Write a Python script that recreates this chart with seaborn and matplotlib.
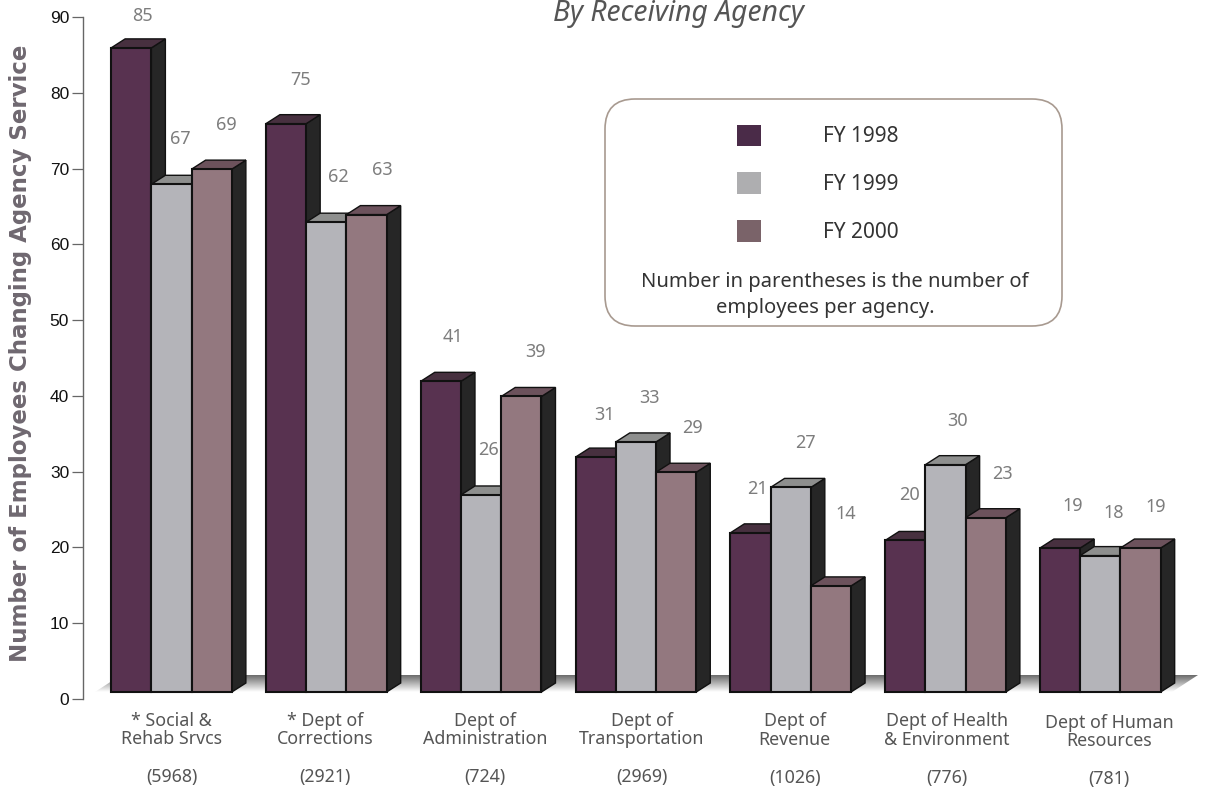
import numpy as np
import pandas as pd
import matplotlib
matplotlib.use("Agg")
import matplotlib.pyplot as plt
from matplotlib.patches import FancyBboxPatch, Polygon
from matplotlib.transforms import ScaledTranslation
import seaborn as sns

# Employees changing agency service, by receiving agency
agencies = ["* Social &\nRehab Srvcs", "* Dept of\nCorrections", "Dept of\nAdministration",
            "Dept of\nTransportation", "Dept of\nRevenue", "Dept of Health\n& Environment",
            "Dept of Human\nResources"]
headcounts = [5968, 2921, 724, 2969, 1026, 776, 781]
fy1998 = [85, 75, 41, 31, 21, 20, 19]
fy1999 = [67, 62, 26, 33, 27, 30, 18]
fy2000 = [69, 63, 39, 29, 14, 23, 19]
years = ["FY 1998", "FY 1999", "FY 2000"]

front_colors = ["#583250", "#b4b4b9", "#93787f"]
top_colors = ["#47303f", "#8e8f8e", "#6c525c"]
side_color = "#262626"
text_gray = "#555555"
value_gray = "#7d7d7d"

# Hand placement of the value labels, in pixels from the top centre of each bar
label_dx = [[11, 9, 15], [15, 12, 16], [12, 7, 14], [9, 14, 16], [7, 15, 15], [4, 12, 17], [13, 13, 15]]
label_up = [[32, 45, 44], [44, 45, 45], [44, 45, 44], [42, 44, 44], [44, 44, 72], [45, 44, 44], [42, 43, 41]]
# Nudge of each group caption, in pixels
caption_shift = [0, -1, 4, 6, 4, 1, 9]
caption_drop = [0, 0, 0, 0, 1, 1, 2]

W, H = 1216, 787
sns.set_theme(style="white", rc={"font.family": ["Noto Sans", "DejaVu Sans"]})
fig = plt.figure(figsize=(W / 100, H / 100), dpi=100, facecolor="white")

# Axes span: y=0 sits at pixel 699, y=90 at pixel 17, left spine at pixel 83
ax_left, ax_right, ax_top, ax_bottom = 83, 1205, 17, 699
ax = fig.add_axes([ax_left / W, 1 - ax_bottom / H, (ax_right - ax_left) / W, (ax_bottom - ax_top) / H])
px_x = 154.8   # pixels per category
px_y = (ax_bottom - ax_top) / 90  # pixels per employee
first_center = 171.5

frame = pd.DataFrame({
    "agency": agencies * 3,
    "year": sum([[y] * len(agencies) for y in years], []),
    "employees": fy1998 + fy1999 + fy2000,
})
sns.barplot(data=frame, x="agency", y="employees", hue="year", hue_order=years, order=agencies,
            palette=front_colors, width=0.78, gap=0, dodge=True, saturation=1, errorbar=None,
            edgecolor="#111111", linewidth=1.5, legend=False, ax=ax)

xlim = ((ax_left - first_center) / px_x, (ax_right - first_center) / px_x)
ax.set_xlim(*xlim)
ax.set_ylim(0, 90)

# Oblique projection: bars stand slightly above the axis zero and recede up and to the right
lift = 7 / px_y
depth_x = 14 / px_x
depth_y = 9 / px_y

# Shaded floor beneath the bars
floor_x0, floor_x1 = (95 - first_center) / px_x, (1172 - first_center) / px_x
floor_run, floor_rise = 26 / px_x, 17 / px_y
shade = np.linspace(0.42, 1.0, 64)[:, None]
floor_img = ax.imshow(shade, cmap="gray", vmin=0, vmax=1, aspect="auto", zorder=1,
                      extent=(floor_x0, floor_x1 + floor_run, lift, lift + floor_rise), origin="upper")
floor_poly = Polygon([(floor_x0, lift), (floor_x1, lift), (floor_x1 + floor_run, lift + floor_rise),
                      (floor_x0 + floor_run, lift + floor_rise)], transform=ax.transData, fc="none", ec="none")
ax.add_patch(floor_poly)
floor_img.set_clip_path(floor_poly)
ax.set_xlim(*xlim)
ax.set_ylim(0, 90)

# Extrude every bar, painting left to right so nearer faces overlap correctly
for h, container in enumerate(ax.containers):
    for g, bar in enumerate(container):
        bar.set_y(lift)
        x0, w, v = bar.get_x(), bar.get_width(), bar.get_height()
        x1, top = x0 + w, lift + v
        z = 2 + g * 3 * 3 + h * 3
        bar.set_zorder(z + 2)
        ax.add_patch(Polygon([(x1, lift), (x1 + depth_x, lift + depth_y), (x1 + depth_x, top + depth_y), (x1, top)],
                             fc=side_color, ec="#111111", lw=1.0, zorder=z))
        ax.add_patch(Polygon([(x0, top), (x0 + depth_x, top + depth_y), (x1 + depth_x, top + depth_y), (x1, top)],
                             fc=top_colors[h], ec="#111111", lw=1.0, zorder=z + 1))
        ax.annotate(str(int(v)), xy=(x0 + w / 2, top), xytext=(label_dx[g][h] * 0.72, label_up[g][h] * 0.72),
                    textcoords="offset points", ha="center", va="center", fontsize=13,
                    color=value_gray, zorder=100, annotation_clip=False)

# Axes furniture
sns.despine(ax=ax, top=True, right=True, bottom=True)
ax.spines["left"].set_color("#666666")
ax.spines["left"].set_linewidth(1.0)
ax.set_yticks(range(0, 91, 10))
ax.tick_params(axis="y", length=8, width=0.9, color="#666666", pad=2, left=True)
for tick in ax.get_yticklabels():
    tick.set_fontsize(12.5)
    tick.set_fontfamily("Liberation Sans")
    tick.set_color("#111111")
ax.set_ylabel("")
ax.set_xlabel("")

ax.set_xticks([i + caption_shift[i] / px_x for i in range(len(agencies))])
ax.set_xticklabels([f"{a}\n\n({n})" for a, n in zip(agencies, headcounts)],
                   fontsize=12.8, color=text_gray, linespacing=1.05)
ax.tick_params(axis="x", length=0, pad=9, bottom=False)
for label, drop in zip(ax.get_xticklabels(), caption_drop):
    label.set_transform(label.get_transform() + ScaledTranslation(0, -drop / 100, fig.dpi_scale_trans))

fig.text(21 / W, 1 - 353 / H, "Number of Employees Changing Agency Service", rotation=90, ha="center", va="center",
         fontsize=16.5, fontweight="bold", color="#6f6870", family="DejaVu Sans")
fig.text(678 / W, 1 - 21 / H, "By Receiving Agency", ha="center", va="baseline", fontsize=20.3,
         fontstyle="italic", color=text_gray)

# Legend panel with rounded corners
panel = FancyBboxPatch((605, H - 326), 457, 227, boxstyle="round,pad=0,rounding_size=1", fc="white", ec="#a89a90",
                       lw=1.2, transform=None, zorder=50, mutation_scale=30)
fig.add_artist(panel)
handles = [plt.Rectangle((0, 0), 1, 1, fc=c, ec="none") for c in ["#4a2b48", "#aeaeb0", "#7a6369"]]
legend = fig.legend(handles, years, loc="upper left", bbox_to_anchor=(718 / W, 1 - 106 / H), frameon=False,
                    fontsize=15, handlelength=1.15, handleheight=1.2, handletextpad=3.0, labelspacing=1.2,
                    labelcolor="#333333")
legend.set_zorder(60)
fig.text(835 / W, 1 - 282 / H, "Number in parentheses is the number of", ha="center", va="center",
         fontsize=14.5, color="#333333", zorder=60)
fig.text(825 / W, 1 - 308 / H, "employees per agency.", ha="center", va="center",
         fontsize=14.5, color="#333333", zorder=60)

fig.savefig("out.png", dpi=100, facecolor="white")
